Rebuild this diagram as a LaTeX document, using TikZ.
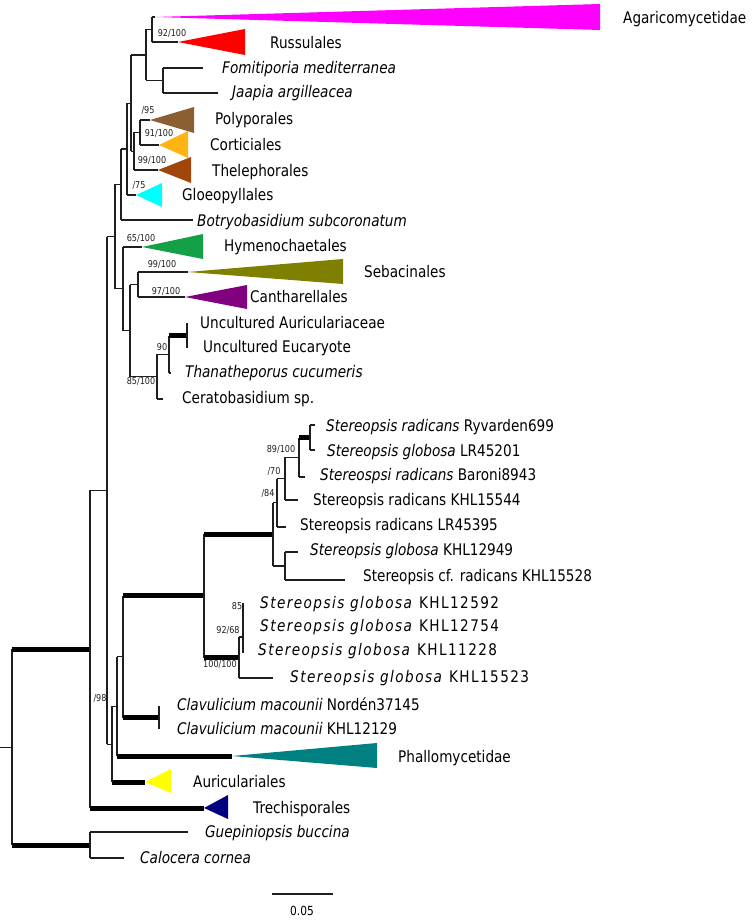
\documentclass[tikz,border=0pt]{standalone}
\usepackage{fontspec}
\setmainfont{DejaVu Sans}[FakeStretch=0.85]
\newfontfamily\spacedfont{DejaVu Sans}[FakeStretch=0.85,LetterSpace=9]
\definecolor{cAgar}{RGB}{255,0,255}
\definecolor{cRuss}{RGB}{255,0,0}
\definecolor{cPoly}{RGB}{140,95,50}
\definecolor{cCort}{RGB}{255,180,20}
\definecolor{cThel}{RGB}{160,70,10}
\definecolor{cGloe}{RGB}{0,255,255}
\definecolor{cHyme}{RGB}{20,160,70}
\definecolor{cSeba}{RGB}{128,128,0}
\definecolor{cCant}{RGB}{128,0,128}
\definecolor{cPhal}{RGB}{0,128,128}
\definecolor{cAuri}{RGB}{255,255,0}
\definecolor{cTrec}{RGB}{0,0,128}
\definecolor{brc}{RGB}{30,30,30}
\begin{document}
\begin{tikzpicture}[x=1pt,y=-1pt,
  br/.style={line width=1.1pt,draw=brc},
  thk/.style={line width=5pt,draw=black},
  tiplab/.style={anchor=mid west,inner sep=0pt,yshift=-2.5pt,font=\fontsize{16}{18}\selectfont},
  bs/.style={anchor=mid,inner sep=0pt,yshift=-0.5pt,font=\fontsize{9.5}{10}\selectfont,text=brc},
  tri/.style={draw=none}]
\useasboundingbox (0,0) rectangle (754,920);
% internal nodes
\coordinate (R) at (12,747.1);
\coordinate (A) at (90,649.2);
\coordinate (B) at (90,845);
\coordinate (n107) at (107,490.3);
\coordinate (n115) at (115,236.6);
\coordinate (n121) at (121,184.5);
\coordinate (n127) at (127,149);
\coordinate (n131) at (131,103.1);
\coordinate (n146) at (146,55);
\coordinate (n152) at (152,29.5);
\coordinate (n163) at (163,80.5);
\coordinate (n134) at (134,151.25);
\coordinate (n140) at (140,132.5);
\coordinate (n123) at (123,288.75);
\coordinate (n130) at (130,330.5);
\coordinate (n138) at (138,284.5);
\coordinate (n157) at (157,376.6);
\coordinate (n169) at (169,354.25);
\coordinate (n187) at (187,335.5);
\coordinate (n112) at (112,744.2);
\coordinate (n117) at (117,706.3);
\coordinate (n123b) at (123,656.7);
\coordinate (n159) at (159,717.5);
\coordinate (n204) at (204,595.9);
\coordinate (n273) at (273,534.25);
\coordinate (n277) at (277,502.75);
\coordinate (n285b) at (285,478.5);
\coordinate (n299) at (299,457.25);
\coordinate (n310) at (310,437.5);
\coordinate (n285) at (285,566);
\coordinate (n239) at (239,657.5);
\coordinate (n243) at (243,637);
\coordinate (n243e) at (243,653);
% tips / apices
\coordinate (agA) at (155,17);
\coordinate (ruA) at (178,42);
\coordinate (fom) at (203,68);
\coordinate (jaa) at (218,93);
\coordinate (poA) at (150,120);
\coordinate (coA) at (159,145);
\coordinate (thA) at (158,170);
\coordinate (glA) at (136,195);
\coordinate (bot) at (193,220);
\coordinate (hyA) at (142,247);
\coordinate (seA) at (188,272);
\coordinate (caA) at (185,297);
\coordinate (ua) at (187,323);
\coordinate (ue) at (187,348);
\coordinate (tha) at (171,373);
\coordinate (cer) at (163,399);
\coordinate (ryv) at (315,425);
\coordinate (lr1) at (315,450);
\coordinate (bar) at (305,477);
\coordinate (k544) at (298,500);
\coordinate (lr3) at (286,527);
\coordinate (k949) at (298,552);
\coordinate (k528) at (345,580);
\coordinate (k592) at (243,603);
\coordinate (k523) at (273,678);
\coordinate (cv1) at (159,706);
\coordinate (cv2) at (159,729);
\coordinate (phA) at (232,756);
\coordinate (auA) at (145,782);
\coordinate (trA) at (204,808);
\coordinate (gue) at (188,832);
\coordinate (cal) at (124,858);
% triangles
\fill[cAgar] (agA) -- (600,4) -- (600,30) -- cycle;
\fill[cRuss] (ruA) -- (245,29) -- (245,55) -- cycle;
\fill[cPoly] (poA) -- (194,107) -- (194,133) -- cycle;
\fill[cCort] (coA) -- (188,131) -- (188,158) -- cycle;
\fill[cThel] (thA) -- (191,157) -- (191,183) -- cycle;
\fill[cGloe] (glA) -- (162,183) -- (162,207) -- cycle;
\fill[cHyme] (hyA) -- (203,234) -- (203,259) -- cycle;
\fill[cSeba] (seA) -- (343,259) -- (343,284) -- cycle;
\fill[cCant] (caA) -- (247,285) -- (247,309) -- cycle;
\fill[cPhal] (phA) -- (377,743) -- (377,768) -- cycle;
\fill[cAuri] (auA) -- (171,769) -- (171,793) -- cycle;
\fill[cTrec] (trA) -- (228,795) -- (228,819) -- cycle;
% root
\draw[br] (0,747.1) -- (R);
\draw[br] (R |- A) -- (R |- B);
\draw[thk] (R |- A) -- (A);
\draw[thk] (R |- B) -- (B);
% outgroup
\draw[br] (B |- gue) -- (B |- cal);
\draw[br] (B |- gue) -- (gue);
\draw[br] (B |- cal) -- (cal);
% A
\draw[br] (A |- n107) -- (A |- trA);
\draw[br] (A |- n107) -- (n107);
\draw[thk] (A |- trA) -- (trA);
% n107
\draw[br] (n107 |- n115) -- (n107 |- n112);
\draw[br] (n107 |- n115) -- (n115);
\draw[br] (n107 |- n112) -- (n112);
% n115
\draw[br] (n115 |- n121) -- (n115 |- n123);
\draw[br] (n115 |- n121) -- (n121);
\draw[br] (n115 |- n123) -- (n123);
% n121
\draw[br] (n121 |- n127) -- (n121 |- bot);
\draw[br] (n121 |- n127) -- (n127);
\draw[br] (n121 |- bot) -- (bot);
% n127
\draw[br] (n127 |- n131) -- (n127 |- glA);
\draw[br] (n127 |- n131) -- (n131);
\draw[br] (n127 |- glA) -- (glA);
% n131
\draw[br] (n131 |- n146) -- (n131 |- n134);
\draw[br] (n131 |- n146) -- (n146);
\draw[br] (n131 |- n134) -- (n134);
% n146
\draw[br] (n146 |- n152) -- (n146 |- n163);
\draw[br] (n146 |- n152) -- (n152);
\draw[br] (n146 |- n163) -- (n163);
% n152
\draw[br] (n152 |- agA) -- (n152 |- ruA);
\draw[br] (n152 |- agA) -- (agA);
\draw[br] (n152 |- ruA) -- (ruA);
% n163
\draw[br] (n163 |- fom) -- (n163 |- jaa);
\draw[br] (n163 |- fom) -- (fom);
\draw[br] (n163 |- jaa) -- (jaa);
% n134
\draw[br] (n134 |- n140) -- (n134 |- thA);
\draw[br] (n134 |- n140) -- (n140);
\draw[br] (n134 |- thA) -- (thA);
% n140
\draw[br] (n140 |- poA) -- (n140 |- coA);
\draw[br] (n140 |- poA) -- (poA);
\draw[br] (n140 |- coA) -- (coA);
% n123
\draw[br] (n123 |- hyA) -- (n123 |- n130);
\draw[br] (n123 |- hyA) -- (hyA);
\draw[br] (n123 |- n130) -- (n130);
% n130
\draw[br] (n130 |- n138) -- (n130 |- n157);
\draw[br] (n130 |- n138) -- (n138);
\draw[br] (n130 |- n157) -- (n157);
% n138
\draw[br] (n138 |- seA) -- (n138 |- caA);
\draw[br] (n138 |- seA) -- (seA);
\draw[br] (n138 |- caA) -- (caA);
% n157
\draw[br] (n157 |- n169) -- (n157 |- cer);
\draw[br] (n157 |- n169) -- (n169);
\draw[br] (n157 |- cer) -- (cer);
% n169
\draw[br] (n169 |- n187) -- (n169 |- tha);
\draw[thk] (n169 |- n187) -- (n187);
\draw[br] (n169 |- tha) -- (tha);
\draw[br] (ua) -- (ue);
% n112
\draw[br] (n112 |- n117) -- (n112 |- auA);
\draw[br] (n112 |- n117) -- (n117);
\draw[thk] (n112 |- auA) -- (auA);
% n117
\draw[br] (n117 |- n123b) -- (n117 |- phA);
\draw[br] (n117 |- n123b) -- (n123b);
\draw[thk] (n117 |- phA) -- (phA);
% n123b
\draw[br] (n123b |- n204) -- (n123b |- n159);
\draw[thk] (n123b |- n204) -- (n204);
\draw[thk] (n123b |- n159) -- (n159);
\draw[br] (cv1) -- (cv2);
% n204
\draw[br] (n204 |- n273) -- (n204 |- n239);
\draw[thk] (n204 |- n273) -- (n273);
\draw[thk] (n204 |- n239) -- (n239);
% n273
\draw[br] (n273 |- n277) -- (n273 |- n285);
\draw[br] (n273 |- n277) -- (n277);
\draw[br] (n273 |- n285) -- (n285);
% n277
\draw[br] (n277 |- n285b) -- (n277 |- lr3);
\draw[br] (n277 |- n285b) -- (n285b);
\draw[br] (n277 |- lr3) -- (lr3);
% n285b
\draw[br] (n285b |- n299) -- (n285b |- k544);
\draw[br] (n285b |- n299) -- (n299);
\draw[br] (n285b |- k544) -- (k544);
% n299
\draw[br] (n299 |- n310) -- (n299 |- bar);
\draw[thk] (n299 |- n310) -- (n310);
\draw[br] (n299 |- bar) -- (bar);
% n310
\draw[br] (n310 |- ryv) -- (n310 |- lr1);
\draw[br] (n310 |- ryv) -- (ryv);
\draw[br] (n310 |- lr1) -- (lr1);
% n285
\draw[br] (n285 |- k949) -- (n285 |- k528);
\draw[br] (n285 |- k949) -- (k949);
\draw[br] (n285 |- k528) -- (k528);
% n239
\draw[br] (n239 |- n243) -- (n239 |- k523);
\draw[br] (n239 |- n243) -- (n243);
\draw[br] (n239 |- k523) -- (k523);
\draw[br] (k592) -- (n243e);
% tip labels
\node[tiplab] (tAgar) at (623,18) {Agaricomycetidae};
\node[tiplab] (tRuss) at (270,43) {Russulales};
\node[tiplab] (tFom) at (222,68) {\itshape Fomitiporia mediterranea};
\node[tiplab] (tJaa) at (232,92) {\itshape Jaapia argilleacea};
\node[tiplab] (tPoly) at (215,119) {Polyporales};
\node[tiplab] (tCort) at (210,145) {Corticiales};
\node[tiplab] (tThel) at (212,171) {Thelephorales};
\node[tiplab] (tGloe) at (182,195) {Gloeopyllales};
\node[tiplab] (tBot) at (197,221) {\itshape Botryobasidium subcoronatum};
\node[tiplab] (tHyme) at (224,246) {Hymenochaetales};
\node[tiplab] (tSeba) at (364,272) {Sebacinales};
\node[tiplab] (tCant) at (250,297) {Cantharellales};
\node[tiplab] (tUA) at (200,323) {Uncultured Auriculariaceae};
\node[tiplab] (tUE) at (203,347) {Uncultured Eucaryote};
\node[tiplab] (tTha) at (185,372) {\itshape Thanatheporus cucumeris};
\node[tiplab] (tCer) at (182,398) {Ceratobasidium sp.};
\node[tiplab] (tRyv) at (326,426) {\textit{Stereopsis radicans} Ryvarden699};
\node[tiplab] (tLR1) at (327,451) {\textit{Stereopsis globosa} LR45201};
\node[tiplab] (tBar) at (320,475) {\textit{Stereospsi radicans} Baroni8943};
\node[tiplab] (tK544) at (313,500) {Stereopsis radicans KHL15544};
\node[tiplab] (tLR3) at (300,525) {Stereopsis radicans LR45395};
\node[tiplab] (tK949) at (310,550) {\textit{Stereopsis globosa} KHL12949};
\node[tiplab] (tK528) at (363,576) {Stereopsis cf. radicans KHL15528};
\node[tiplab] (tK592) at (260,603) {\spacedfont\textit{Stereopsis globosa} KHL12592};
\node[tiplab] (tK754) at (260,626) {\spacedfont\textit{Stereopsis globosa} KHL12754};
\node[tiplab] (tK228) at (258,650) {\spacedfont\textit{Stereopsis globosa} KHL11228};
\node[tiplab] (tK523) at (290,677) {\spacedfont\textit{Stereopsis globosa} KHL15523};
\node[tiplab] (tCv1) at (177,705) {\textit{Clavulicium macounii} Nordén37145};
\node[tiplab] (tCv2) at (177,729) {\textit{Clavulicium macounii} KHL12129};
\node[tiplab] (tPhal) at (398,757) {Phallomycetidae};
\node[tiplab] (tAuri) at (193,782) {Auriculariales};
\node[tiplab] (tTrec) at (253,808) {Trechisporales};
\node[tiplab] (tGue) at (205,832) {\itshape Guepiniopsis buccina};
\node[tiplab] (tCal) at (140,858) {\itshape Calocera cornea};
% support values
\node[bs] (s1) at (172,33) {92/100};
\node[bs] (s2) at (148,110) {/95};
\node[bs] (s3) at (159,133) {91/100};
\node[bs] (s4) at (152,160) {99/100};
\node[bs] (s5) at (139,185) {/75};
\node[bs] (s6) at (141,238) {65/100};
\node[bs] (s7) at (162,264) {99/100};
\node[bs] (s8) at (166,291) {97/100};
\node[bs] (s9) at (162,347) {90};
\node[bs] (s10) at (141,381) {85/100};
\node[bs] (s11) at (281,449) {89/100};
\node[bs] (s12) at (274,471) {/70};
\node[bs] (s13) at (268,493) {/84};
\node[bs] (s14) at (237,606) {85};
\node[bs] (s15) at (228,630) {92/68};
\node[bs] (s16) at (220,664) {100/100};
\node[bs] (s17) at (100,698) {/98};
% scale bar
\coordinate (sbL) at (272,894);
\coordinate (sbR) at (333,894);
\draw[br] (sbL) -- (sbR);
\node[anchor=mid,inner sep=0pt,font=\fontsize{12.5}{14}\selectfont] (sbT) at (302,913) {0.05};
\end{tikzpicture}
\end{document}
